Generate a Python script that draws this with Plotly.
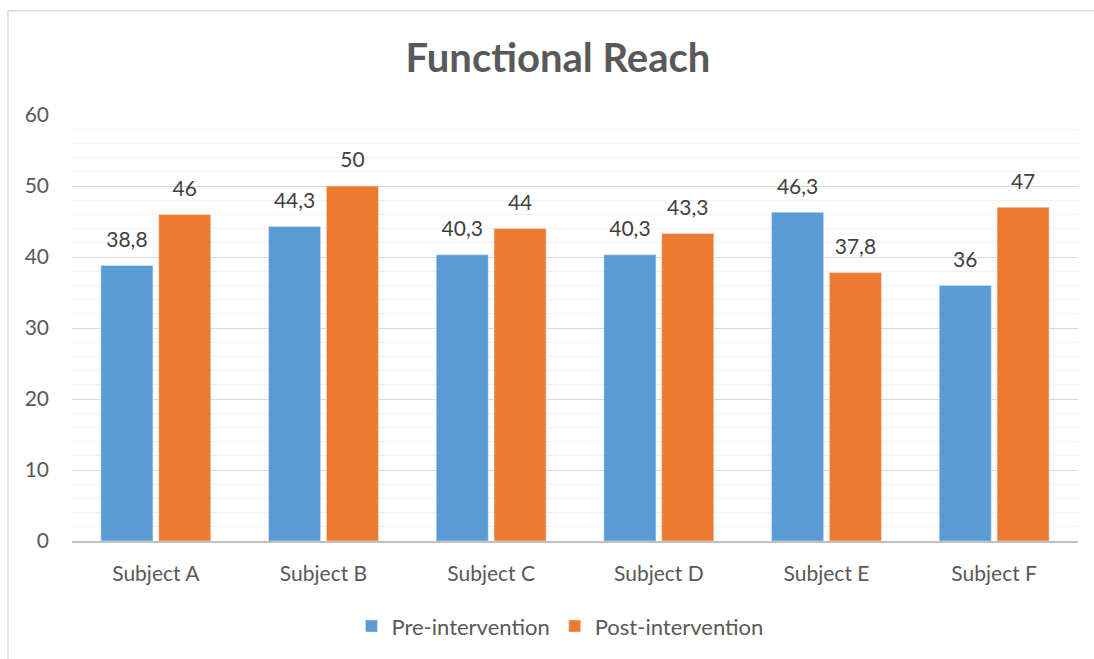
import plotly.graph_objects as go

categories = ["Subject A", "Subject B", "Subject C", "Subject D", "Subject E", "Subject F"]
pre_values = [38.8, 44.3, 40.3, 40.3, 46.3, 36]
post_values = [46, 50, 44, 43.3, 37.8, 47]
y_ticks = [0, 10, 20, 30, 40, 50, 60]

def fmt(v):
    return ("%g" % v).replace(".", ",")

FONT = "Lato, 'Open Sans', sans-serif"
GREY = "#595959"
BARGAP = 0.31
GROUPGAP = 0.1

fig = go.Figure()
series = [("Pre-intervention", pre_values, "#5A9AD5"),
          ("Post-intervention", post_values, "#EC7B30")]
for name, vals, col in series:
    fig.add_trace(go.Bar(
        x=categories, y=vals, name=name,
        marker=dict(color=col),
        offsetgroup=name, alignmentgroup="g",
    ))
for name, vals, col in series:
    fig.add_trace(go.Scatter(
        x=categories, y=vals, mode="markers+text", showlegend=False,
        offsetgroup=name, alignmentgroup="g",
        marker=dict(size=20, opacity=0),
        text=[fmt(v) for v in vals], textposition="top center",
        textfont=dict(size=21, color="#404040", family=FONT),
        cliponaxis=False, hoverinfo="skip",
    ))

fig.update_layout(
    width=1094, height=659,
    paper_bgcolor="white", plot_bgcolor="white",
    margin=dict(l=72, r=16, t=115, b=116),
    barmode="group", bargap=BARGAP, bargroupgap=GROUPGAP,
    scattermode="group", scattergap=BARGAP,
    font=dict(family=FONT, color=GREY, size=20),
    title=dict(text="<b>Functional Reach</b>", x=0.51, xanchor="center",
               y=0.912, yanchor="middle",
               font=dict(size=40, color=GREY, family=FONT)),
    legend=dict(orientation="h", x=0.485, xanchor="center", y=-0.2, yanchor="middle",
                font=dict(size=22, color=GREY, family=FONT)),
    showlegend=True,
    shapes=[
        dict(type="line", xref="paper", yref="paper", x0=-0.0636, x1=1.1, y0=1.245, y1=1.245,
             line=dict(color="#D9D9D9", width=1.5)),
        dict(type="line", xref="paper", yref="paper", x0=-0.0636, x1=-0.0636, y0=-0.3, y1=1.245,
             line=dict(color="#D9D9D9", width=1.5)),
    ],
)
fig.update_xaxes(
    showline=True, linecolor="#BFBFBF", linewidth=1.5,
    tickfont=dict(size=21, color=GREY, family=FONT),
    ticks="", showgrid=False, ticklabelstandoff=13,
)
fig.update_yaxes(
    range=[0, 60], tickvals=y_ticks, ticktext=[str(t) for t in y_ticks],
    showgrid=True, gridcolor="#D9D9D9", gridwidth=1,
    minor=dict(dtick=2, showgrid=True, gridcolor="#F2F2F2", gridwidth=1),
    zeroline=False, showline=False, ticks="",
    tickfont=dict(size=21, color=GREY, family=FONT),
    ticklabelstandoff=22,
)

fig.write_html("out.html")
